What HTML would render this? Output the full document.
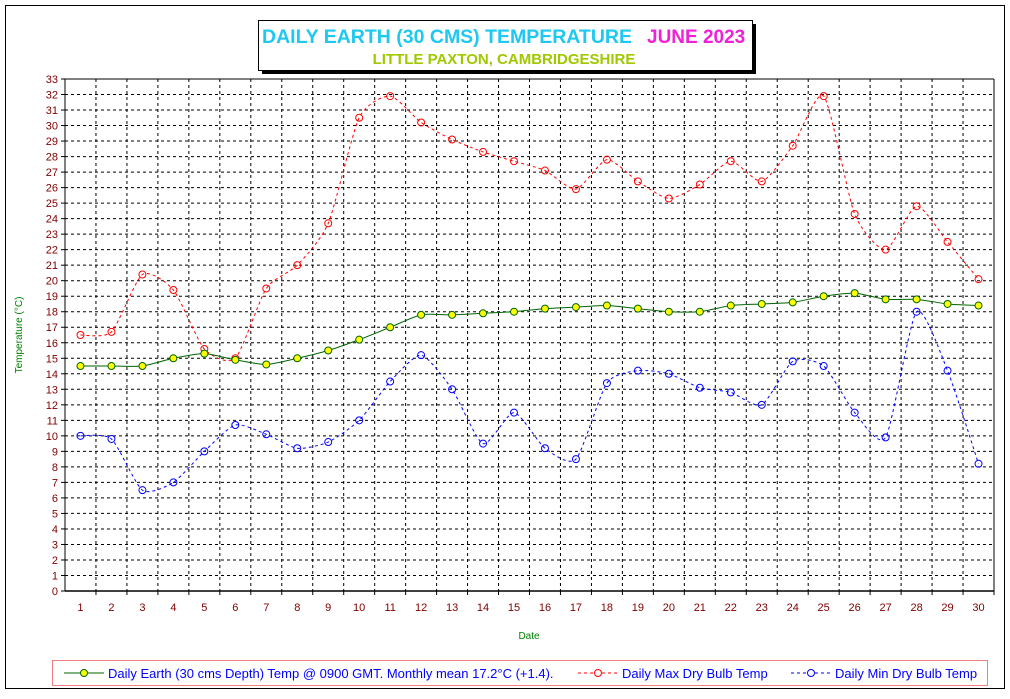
<!DOCTYPE html>
<html><head><meta charset="utf-8"><style>
body{margin:0;background:#fff;}
svg text{font-family:"Liberation Sans",Arial,sans-serif;}
</style></head><body>
<svg id="c" width="1010" height="694" xmlns="http://www.w3.org/2000/svg">
<rect x="5.5" y="5.5" width="999" height="683" fill="#fff" stroke="#000"/>
<rect x="262" y="24" width="494" height="50" fill="#000"/>
<rect x="258.5" y="20.5" width="494" height="50" fill="#fff" stroke="#000"/>
<text x="262" y="43" font-size="19.5" font-weight="bold" fill="#1ec8f0" textLength="370">DAILY EARTH (30 CMS) TEMPERATURE</text>
<text x="647" y="43" font-size="19" font-weight="bold" fill="#f020d8">JUNE 2023</text>
<text x="504" y="64" font-size="15" font-weight="bold" fill="#a0c800" text-anchor="middle">LITTLE PAXTON, CAMBRIDGESHIRE</text>
<g id="grid"></g><g id="series"></g>
<text x="22" y="335" font-size="10" fill="#008000" text-anchor="middle" transform="rotate(-90 22 335)">Temperature (°C)</text>
<text x="529" y="639" font-size="10" fill="#008000" text-anchor="middle">Date</text>
<g>
<rect x="52.5" y="660.5" width="935" height="25" fill="#fff" stroke="#f08080"/>
<line x1="64" y1="673" x2="104" y2="673" stroke="#006400"/>
<circle cx="84" cy="673" r="3.5" fill="#ffff00" stroke="#006400"/>
<text x="108" y="678" font-size="13" fill="#0000ff">Daily Earth (30 cms Depth) Temp @ 0900 GMT. Monthly mean 17.2°C (+1.4).</text>
<line x1="578" y1="673" x2="618" y2="673" stroke="#ff0000" stroke-dasharray="3,3"/>
<circle cx="598" cy="673" r="3.5" fill="#fff" stroke="#ff0000"/>
<text x="622" y="678" font-size="13" fill="#0000ff">Daily Max Dry Bulb Temp</text>
<line x1="791" y1="673" x2="831" y2="673" stroke="#0000ff" stroke-dasharray="3,3"/>
<circle cx="811" cy="673" r="3.5" fill="#fff" stroke="#0000ff"/>
<text x="835" y="678" font-size="13" fill="#0000ff">Daily Min Dry Bulb Temp</text>
</g>
</svg>
<script>
const days = Array.from({length:30},(_, i)=>i+1);
const earthTemps = [14.5,14.5,14.5,15.0,15.3,14.9,14.6,15.0,15.5,16.2,17.0,17.8,17.8,17.9,18.0,18.2,18.3,18.4,18.2,18.0,18.0,18.4,18.5,18.6,19.0,19.2,18.8,18.8,18.5,18.4];
const maxTemps = [16.5,16.7,20.4,19.4,15.6,15.0,19.5,21.0,23.7,30.5,31.9,30.2,29.1,28.3,27.7,27.1,25.9,27.8,26.4,25.3,26.2,27.7,26.4,28.7,31.9,24.3,22.0,24.8,22.5,20.1];
const minTemps = [10.0,9.8,6.5,7.0,9.0,10.7,10.1,9.2,9.6,11.0,13.5,15.2,13.0,9.5,11.5,9.2,8.5,13.4,14.2,14.0,13.1,12.8,12.0,14.8,14.5,11.5,9.9,18.0,14.2,8.2];
const yTicks = Array.from({length:34},(_, i)=>i);
const NS="http://www.w3.org/2000/svg";
const L=65,R=994,T=79,B=591,YMAX=33;
const xs=d=>L+(d-0.5)*(R-L)/days.length;
const ys=v=>B-v*(B-T)/YMAX;
function mk(tag,attrs,parent){const e=document.createElementNS(NS,tag);for(const k in attrs)e.setAttribute(k,attrs[k]);parent.appendChild(e);return e;}
const grid=document.getElementById('grid');
yTicks.forEach(t=>{
  const y=ys(t);
  if(t>0){const g=mk('line',{x1:L,x2:R,y1:y,y2:y,stroke:'#000','stroke-dasharray':'3,3'},grid);
  
  }
  mk('line',{x1:L-4,x2:L,y1:y,y2:y,stroke:'#000'},grid);
  const tx=mk('text',{x:L-7,y:y+4,'font-size':11,fill:'#800000','text-anchor':'end'},grid);tx.textContent=t;
  
  
});
for(let i=1;i<=days.length;i++){
  const x=L+i*(R-L)/days.length;
  if(i<days.length){const g=mk('line',{x1:x,x2:x,y1:T,y2:B,stroke:'#000','stroke-dasharray':'3,3'},grid);
  
  }
  mk('line',{x1:x,x2:x,y1:B,y2:B+4,stroke:'#000'},grid);
}
days.forEach(d=>{const tx=mk('text',{x:xs(d),y:B+20,'font-size':11,fill:'#800000','text-anchor':'middle'},grid);tx.textContent=d;
  
  });
mk('line',{x1:L,x2:L,y1:T,y2:B,stroke:'#000'},grid);
mk('line',{x1:L,x2:R,y1:T,y2:T,stroke:'#000'},grid);
mk('line',{x1:R,x2:R,y1:T,y2:B,stroke:'#000'},grid);
mk('line',{x1:L,x2:R,y1:B,y2:B,stroke:'#000','stroke-width':1.5},grid);
function smooth(p){const k=9;let d=`M${p[0][0]},${p[0][1]}`;for(let i=0;i<p.length-1;i++){const p0=p[i-1]||p[i],p1=p[i],p2=p[i+1],p3=p[i+2]||p2;
 d+=` C${p1[0]+(p2[0]-p0[0])/k},${p1[1]+(p2[1]-p0[1])/k} ${p2[0]-(p3[0]-p1[0])/k},${p2[1]-(p3[1]-p1[1])/k} ${p2[0]},${p2[1]}`;}return d;}
const ser=document.getElementById('series');
function draw(vals,stroke,fill,dash,name){
  const pts=vals.map((v,i)=>[xs(days[i]),ys(v)]);
  const p=mk('path',{d:smooth(pts),fill:'none',stroke:stroke,'stroke-dasharray':dash},ser);
  
  
  pts.forEach(q=>{const c=mk('circle',{cx:q[0],cy:q[1],r:3.5,fill:fill,stroke:stroke},ser);
    
    });
}
draw(maxTemps,'#ff0000','none','3,3','max-temp');
draw(minTemps,'#0000ff','none','3,3','min-temp');
draw(earthTemps,'#006400','#ffff00','none','earth-temp');
</script>
</body></html>
